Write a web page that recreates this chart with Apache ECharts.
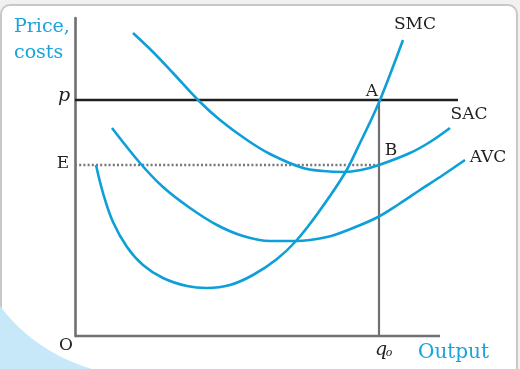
<!DOCTYPE html>
<html>
<head>
<meta charset="utf-8">
<script src="https://cdn.jsdelivr.net/npm/echarts@6/dist/echarts.min.js"></script>
<style>
html,body{margin:0;padding:0;background:#f1f1f1;}
#c{width:520px;height:369px;}
</style>
</head>
<body>
<div id="c"></div>
<script>
// Data (abstract units: output on x, price/costs on y)
var smc = [[21,171],[28,143],[38,114],[52,89],[68,71],[88,58],[112,50],[132,48],[155,51],[178,61],[202,77],[221,95],[243,123],[270,163],[285,193],[297,218],[305,236],[316,264],[328,296]];
var sac = [[58,303],[78,284],[98,263],[123,236],[145,216],[172,196],[195,182],[228,168],[248,165],[268,164],[286,166],[304,171],[335,183],[355,194],[375,208]];
var avc = [[37,208],[65,173],[88,149],[115,128],[142,111],[168,100],[195,95],[220,95],[252,99],[278,108],[303,119],[324,132],[345,146],[368,161],[390,176]];
var priceP = 236;      // price level p
var levelE = 171;      // level E
var outputQ0 = 304;    // output q0
var priceLineEnd = 383;
var xAxisEnd = 365;
var viewMax = [420, 318];

var curveNames = ['SMC', 'SAC', 'AVC'];
var pointLabels = [
  {text:'SMC', at:[340,311]},
  {text:'A', at:[297,244]},
  {text:'B', at:[316,185]},
  {text:'SAC', at:[394,221]},
  {text:'AVC', at:[413,178]},
  {text:'E', at:[-12,172]},
  {text:'O', at:[-9,-10]}
];

var BLUE = '#0d9fd8';
var GREY = '#707072';
var DARK = '#231f20';
var FONT = '"DejaVu Serif", "Liberation Serif", serif';

var chart = echarts.init(document.getElementById('c'), null, {renderer:'canvas'});

function curve(name, data) {
  return {name:name, type:'line', data:data, smooth:0.35, showSymbol:false, symbol:'none',
    clip:false, lineStyle:{color:BLUE, width:2.6}, z:3, silent:true};
}
function seg(data, style, z) {
  return {type:'line', data:data, showSymbol:false, symbol:'none', clip:false, lineStyle:style, z:z, silent:true};
}

chart.setOption({
  animation:false,
  backgroundColor:'transparent',
  grid:{left:75, right:25, top:18, bottom:33},
  xAxis:{type:'value', min:0, max:viewMax[0],
    axisLine:{show:false},
    axisTick:{show:false}, axisLabel:{show:false}, splitLine:{show:false}},
  yAxis:{type:'value', min:0, max:viewMax[1],
    axisLine:{show:true, lineStyle:{color:GREY, width:2.6}},
    axisTick:{show:false}, axisLabel:{show:false}, splitLine:{show:false}},
  series:[
    seg([[0,0],[xAxisEnd,0]], {color:GREY, width:2.6}, 1),
    seg([[0,levelE],[outputQ0,levelE]], {color:'#77777a', width:2.4, type:[2,2.2]}, 1),
    seg([[outputQ0,0],[outputQ0,priceP]], {color:GREY, width:2.2}, 1),
    seg([[0,priceP],[priceLineEnd,priceP]], {color:DARK, width:2.4}, 2),
    curve(curveNames[0], smc),
    curve(curveNames[1], sac),
    curve(curveNames[2], avc)
  ]
});

function px(pt){ return chart.convertToPixel({gridIndex:0}, pt); }

// decorative corner shape (page ornament, not data)
var corner = [[0,306]];
for (var i = 1; i <= 20; i++) {
  var t = i / 20;
  corner.push([2*(1-t)*t*35 + t*t*92, (1-t)*(1-t)*306 + 2*(1-t)*t*352 + t*t*369]);
}
corner.push([0,369]);

var g = [
  {type:'rect', z:-10, shape:{x:1, y:5, width:516, height:380, r:9},
    style:{fill:'#ffffff', stroke:'#c8c8c8', lineWidth:2}},
  {type:'polygon', z:-9, shape:{points:corner}, style:{fill:'#c7e8f8'}}
];
pointLabels.forEach(function(l){
  var p = px(l.at);
  g.push({type:'text', x:p[0], y:p[1], z:10,
    style:{text:l.text, font:'17px ' + FONT, fill:DARK, align:'center', verticalAlign:'middle'}});
});
var pp = px([-11, priceP + 4]);
g.push({type:'text', x:pp[0], y:pp[1], z:10,
  style:{text:'p', font:'italic 19px ' + FONT, fill:DARK, align:'center', verticalAlign:'middle'}});
var pq = px([outputQ0 + 2, -14]);
g.push({type:'text', x:pq[0], y:pq[1], z:10,
  style:{text:'q', font:'italic 19px ' + FONT, fill:DARK, align:'center', verticalAlign:'middle'}});
var pq2 = px([outputQ0 + 10, -17]);
g.push({type:'text', x:pq2[0], y:pq2[1], z:10,
  style:{text:'o', font:'italic 11px ' + FONT, fill:DARK, align:'center', verticalAlign:'middle'}});
var po = px([343, -17]);
g.push({type:'text', x:po[0], y:po[1], z:10,
  style:{text:'Output', font:'20px ' + FONT, fill:'#1aa3dd', align:'left', verticalAlign:'middle'}});
var pt = px([-61, 322]);
g.push({type:'text', x:pt[0], y:pt[1], z:10,
  style:{text:'Price,\ncosts', font:'19px ' + FONT, fill:'#1aa3dd', align:'left', verticalAlign:'top', lineHeight:26}});

chart.setOption({graphic:g});
</script>
</body>
</html>
